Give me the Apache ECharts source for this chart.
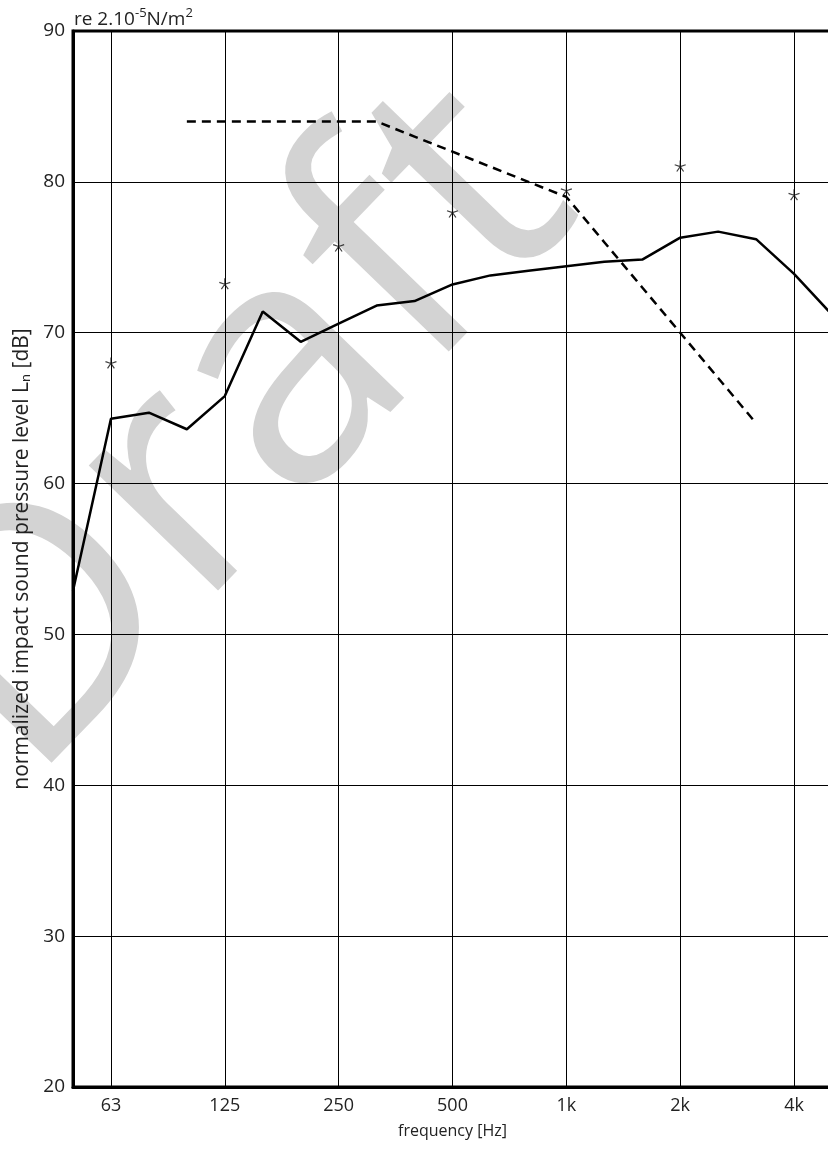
<!DOCTYPE html>
<html>
<head>
<meta charset="utf-8">
<script src="https://cdn.jsdelivr.net/npm/echarts@6/dist/echarts.min.js"></script>
<style>
html,body{margin:0;padding:0;background:#fff;}
#chart{width:828px;height:1149px;}
</style>
</head>
<body>
<div id="chart"></div>
<script>
// One-third-octave band centre frequencies
var bands = ['50','63','80','100','125','160','200','250','315','400','500','630','800','1k','1.25k','1.6k','2k','2.5k','3.15k','4k','5k'];
// Octave labels shown on the axis
var octaveLabels = ['63','125','250','500','1k','2k','4k'];
// Measured normalized impact sound pressure level (solid line)
var measured = [52.9, 64.3, 64.7, 63.6, 65.8, 71.4, 69.4, 70.6, 71.8, 72.1, 73.2, 73.8, 74.1, 74.4, 74.7, 74.85, 76.3, 76.7, 76.2, 73.9, 71.2];
// Shifted reference curve (dashed line), 100 Hz to 3.15 kHz
var refBands = ['100','125','160','200','250','315','400','500','630','800','1k','1.25k','1.6k','2k','2.5k','3.15k'];
var refValues = [84, 84, 84, 84, 84, 84, 83, 82, 81, 80, 79, 76, 73, 70, 67, 64];
// Octave-band values (stars)
var starBands = ['63','125','250','500','1k','2k','4k'];
var starValues = [68.0, 73.25, 75.75, 78.0, 79.45, 81.05, 79.15];

var FONT = '"Open Sans", "Noto Sans", sans-serif';
var chart = echarts.init(document.getElementById('chart'), null, {renderer: 'canvas'});

function isOctave(i) { return octaveLabels.indexOf(bands[i]) >= 0; }

var option = {
  backgroundColor: '#ffffff',
  animation: false,
  textStyle: {fontFamily: FONT},
  graphic: [{
    type: 'text',
    z: -10,
    x: 238, y: 432,
    rotation: 46 * Math.PI / 180,
    style: {
      text: 'Draft',
      font: '400 336px ' + FONT,
      fill: '#d3d3d3',
      textAlign: 'center',
      textVerticalAlign: 'middle'
    }
  }, {
    type: 'text',
    x: 74, y: 7,
    style: {
      text: 're 2.10{sup|-5}N/m{sup|2}',
      font: '19px ' + FONT,
      fill: '#222',
      rich: {
        sup: {fontSize: 13, fontFamily: FONT, fill: '#222', verticalAlign: 'top', lineHeight: 25}
      }
    }
  }],
  grid: {
    left: 73, top: 31, width: 759, height: 1056,
    outerBoundsMode: 'none',
    containLabel: false,
    show: true, borderColor: '#000', borderWidth: 3, backgroundColor: 'transparent'
  },
  xAxis: {
    type: 'category',
    data: bands,
    boundaryGap: false,
    name: 'frequency [Hz]',
    nameLocation: 'middle',
    nameGap: 36,
    nameTextStyle: {fontSize: 16, color: '#222', fontFamily: FONT},
    axisLine: {show: true, lineStyle: {color: '#000', width: 3}},
    axisTick: {show: false},
    axisLabel: {
      interval: function (i) { return isOctave(i); },
      fontSize: 18, color: '#222', margin: 10, fontFamily: FONT
    },
    splitLine: {
      show: true,
      interval: function (i) { return isOctave(i); },
      lineStyle: {color: '#000', width: 1}
    }
  },
  yAxis: {
    type: 'value',
    min: 20, max: 90, interval: 10,
    name: 'normalized impact sound pressure level L{sub|n} [dB]',
    nameLocation: 'middle',
    nameGap: 37,
    nameRotate: 90,
    nameTextStyle: {
      fontSize: 21, color: '#222', fontFamily: FONT,
      rich: {sub: {fontSize: 13, color: '#222', fontFamily: FONT, verticalAlign: 'bottom', padding: [8, 0, 0, 0]}}
    },
    axisLine: {show: true, lineStyle: {color: '#000', width: 3}},
    axisTick: {show: false},
    axisLabel: {fontSize: 19, color: '#222', margin: 8, fontFamily: FONT},
    splitLine: {show: true, lineStyle: {color: '#000', width: 1}}
  },
  series: [{
    type: 'line',
    data: measured,
    symbol: 'none',
    lineStyle: {color: '#000', width: 2.5},
    z: 5
  }, {
    type: 'line',
    data: refBands.map(function (b, i) { return [b, refValues[i]]; }),
    symbol: 'none',
    lineStyle: {color: '#000', width: 2.5, type: [9, 6]},
    z: 5
  }, {
    type: 'scatter',
    data: starBands.map(function (b, i) { return [b, starValues[i]]; }),
    symbol: 'path://M0,0L0,-10M0,0L9.5,-3.1M0,0L5.9,8.1M0,0L-5.9,8.1M0,0L-9.5,-3.1',
    symbolSize: 11,
    itemStyle: {color: 'none', borderColor: '#111', borderWidth: 1.2},
    z: 6
  }]
};
chart.setOption(option);
</script>
</body>
</html>
